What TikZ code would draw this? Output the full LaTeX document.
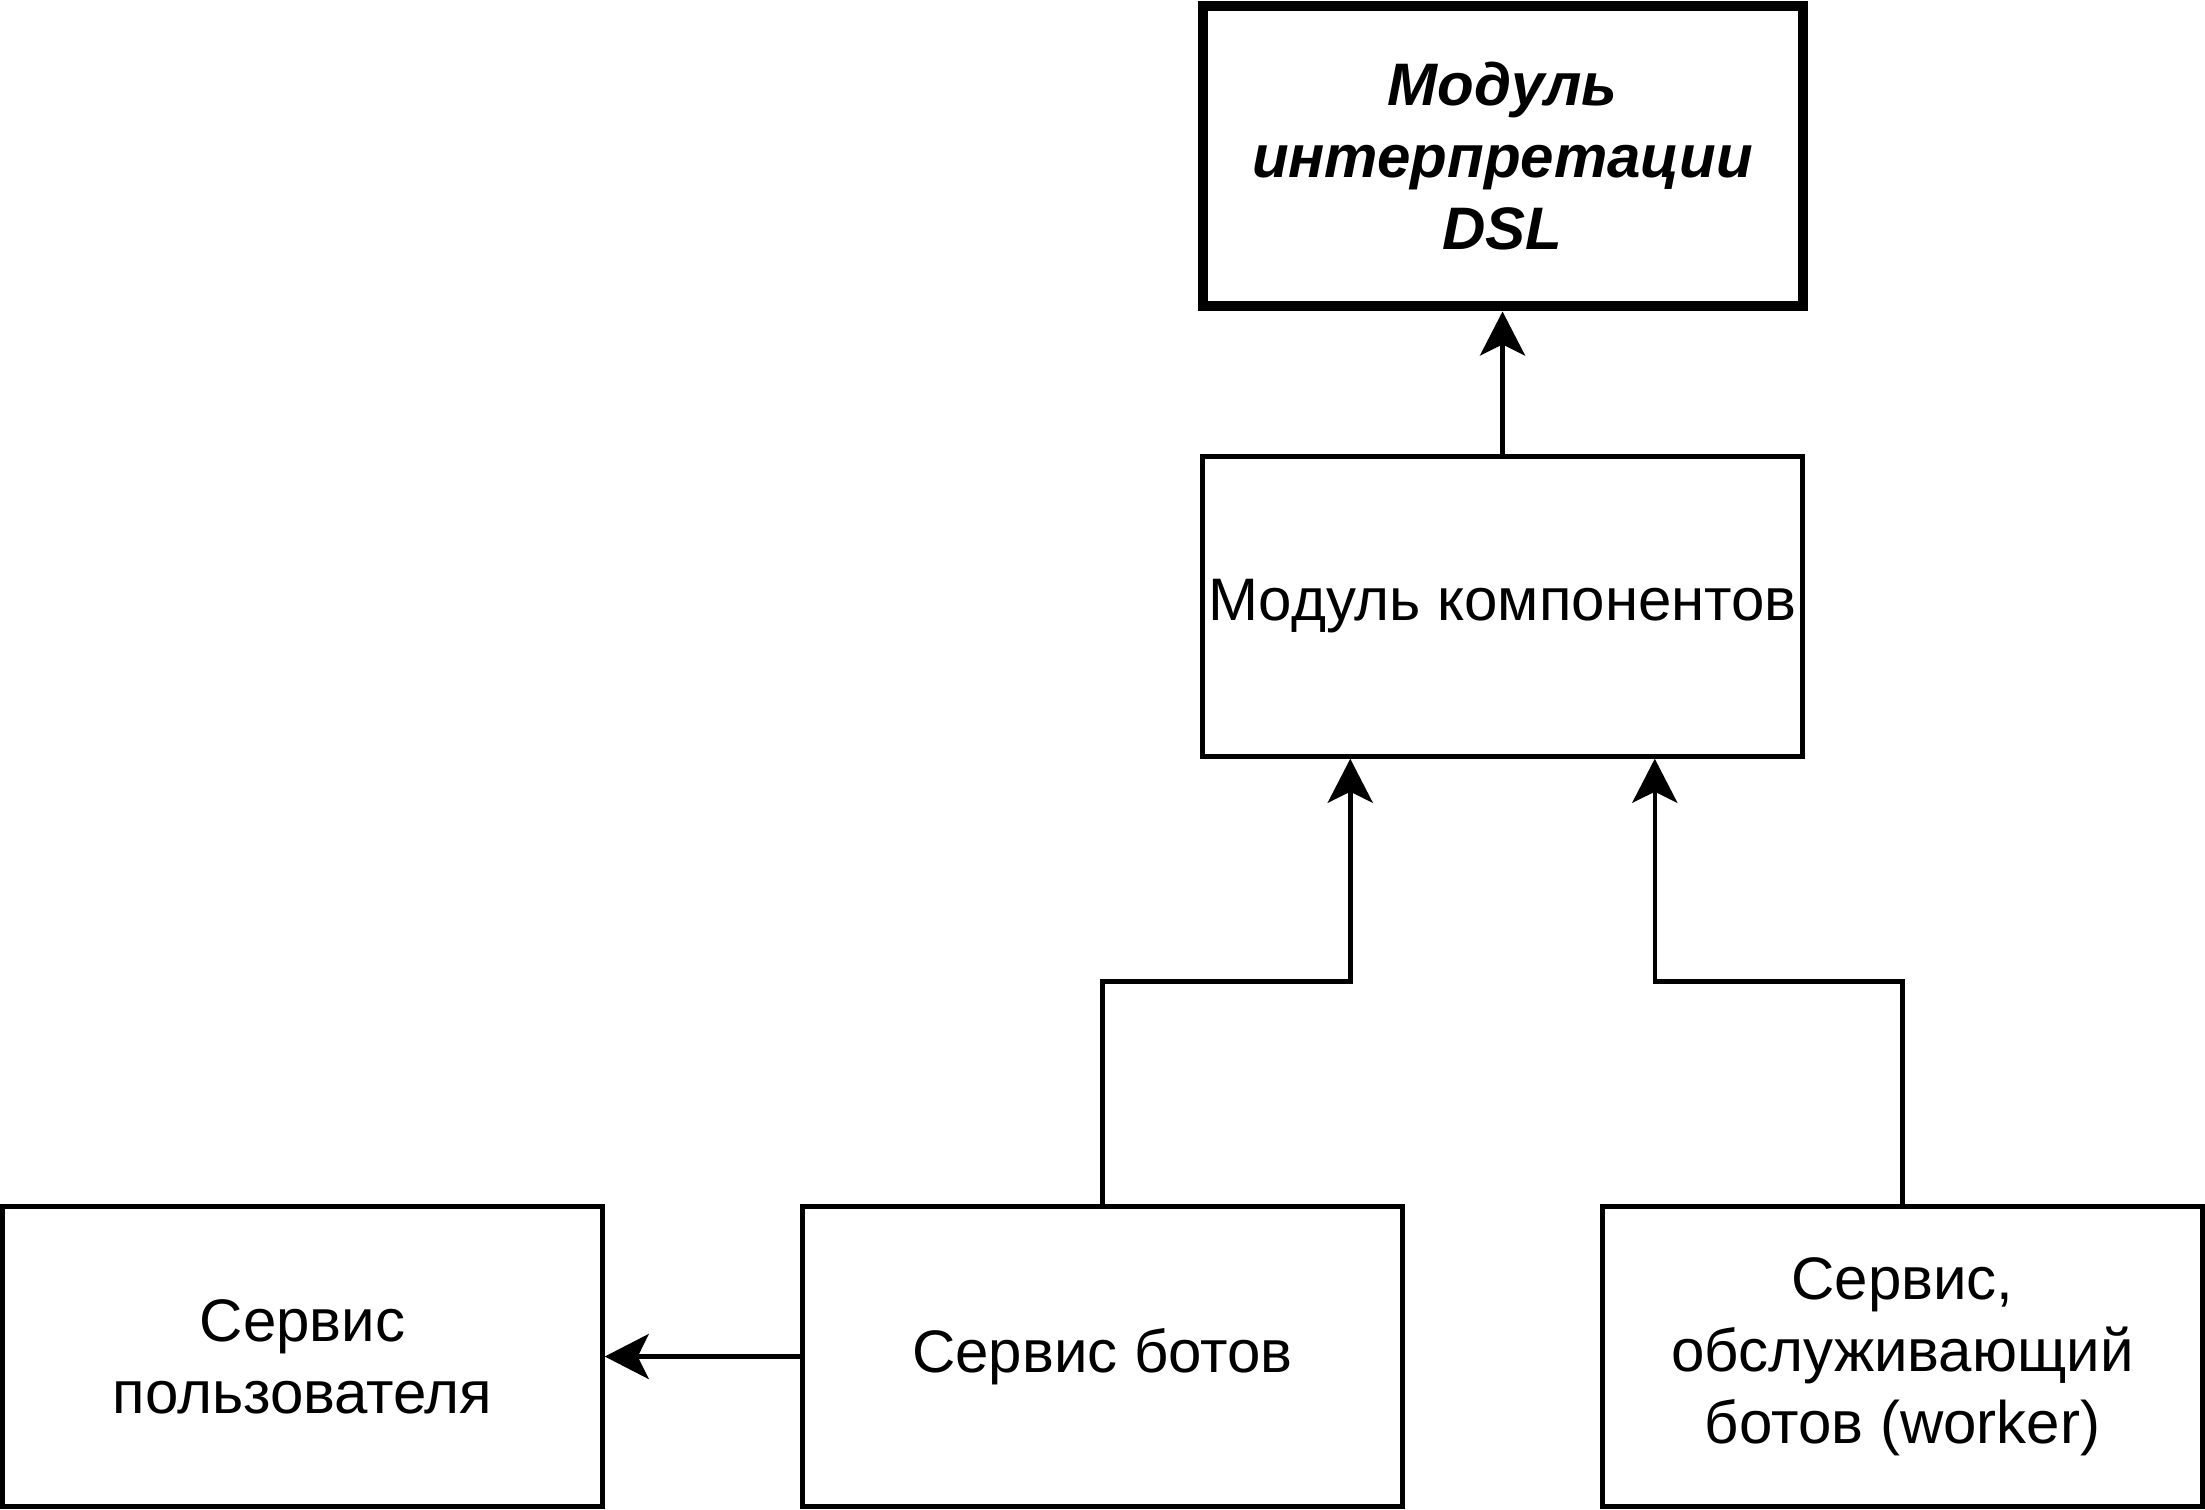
\documentclass[tikz,border=0pt]{standalone}
\usepackage{fontspec}
\setmainfont{Liberation Sans}
\usetikzlibrary{arrows.meta}

\begin{document}
\begin{tikzpicture}[x=1pt,y=-1pt,
  box/.style={draw, line width=0.9pt, minimum width=120pt, minimum height=60pt,
    inner sep=0pt, align=center, font=\fontsize{12}{14.4}\selectfont},
  thickbox/.style={box, line width=2pt, font=\fontsize{12}{14.4}\selectfont\bfseries\itshape},
  arr/.style={-{Stealth[length=8.8pt,width=9pt,inset=2.2pt]}, line width=0.9pt}]
\useasboundingbox (0,0) rectangle (441,302);
\node[thickbox] (dsl) at (300.5,31.3) {Модуль\\интерпретации\\DSL};
\node[box] (comp) at (300.5,121.3) {Модуль компонентов};
\node[box] (user) at (60.5,271.3) {Сервис\\пользователя};
\node[box] (bots) at (220.5,271.3) {Сервис ботов};
\node[box] (worker) at (380.5,271.3) {Сервис,\\обслуживающий\\ботов (worker)};
\coordinate (bendb) at (220.5,196.3);
\coordinate (bendw) at (380.5,196.3);
\draw[arr] (comp.north) -- (dsl.south);
\draw[arr] (bots.north) -- (bendb) -| (comp.225);
\draw[arr] (worker.north) -- (bendw) -| (comp.315);
\draw[arr] (bots.west) -- (user.east);
\end{tikzpicture}
\end{document}
